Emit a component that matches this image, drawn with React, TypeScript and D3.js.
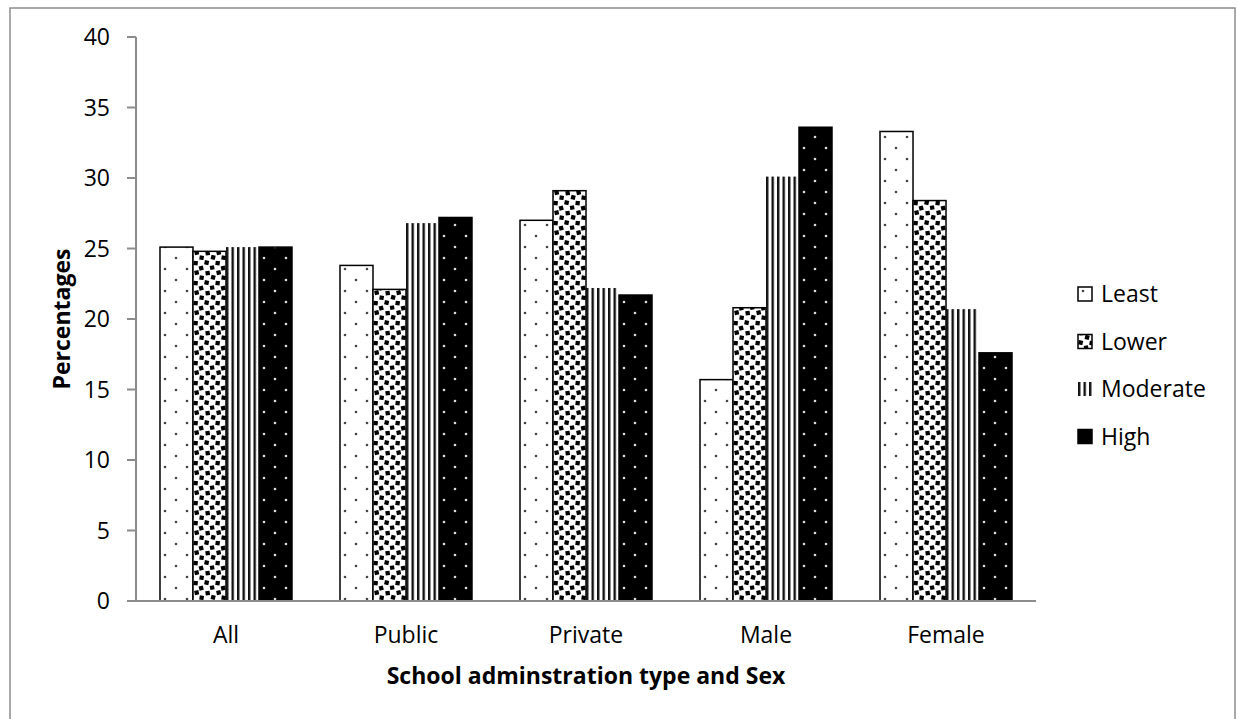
import React from "react";
import * as d3 from "d3";

// Percentages by school administration type and sex, for each level
const categories = ["All", "Public", "Private", "Male", "Female"];
const seriesNames = ["Least", "Lower", "Moderate", "High"];
const least = [25.1, 23.8, 27.0, 15.7, 33.3];
const lower = [24.8, 22.1, 29.1, 20.8, 28.4];
const moderate = [25.1, 26.8, 22.2, 30.1, 20.7];
const high = [25.1, 27.2, 21.7, 33.6, 17.6];
const yTicks = [0, 5, 10, 15, 20, 25, 30, 35, 40];

const seriesValues = [least, lower, moderate, high];
const patternIds = ["pat-least", "pat-lower", "pat-moderate", "pat-high"];
// the striped series is drawn without an outline
const outlined = [true, true, false, true];

const W = 1238;
const H = 719;
const plot = { left: 136, right: 1036, top: 37, bottom: 601 };
const FONT = "'Open Sans', 'DejaVu Sans', sans-serif";
const AXIS = "#8c8c8c";

export default function App() {
  const x = d3
    .scaleBand<string>()
    .domain(categories)
    .range([plot.left, plot.right])
    .paddingInner(0.2667)
    .paddingOuter(0.1333);
  const xInner = d3
    .scaleBand<string>()
    .domain(seriesNames)
    .range([0, x.bandwidth()]);
  const y = d3.scaleLinear().domain([0, 40]).range([plot.bottom, plot.top]);

  const legendX = 1078;
  const legendY0 = 294;
  const legendStep = 47.5;

  return (
    <svg
      width={W}
      height={H}
      style={{ position: "absolute", left: 0, top: 0, background: "#fff" }}
      fontFamily={FONT}
    >
      <defs>
        <pattern id="pat-least" patternUnits="userSpaceOnUse" width={22} height={22}>
          <rect width={22} height={22} fill="#fff" />
          <circle cx={5} cy={5} r={1.3} fill="#444" />
          <circle cx={16} cy={16} r={1.3} fill="#444" />
        </pattern>
        <pattern id="pat-lower" patternUnits="userSpaceOnUse" width={22} height={20}>
          <rect width={22} height={20} fill="#fff" />
          <rect x={0.5} y={0.5} width={4.3} height={4.3} fill="#000" transform="rotate(12 2.6 2.6)" />
          <rect x={6} y={5.5} width={4.3} height={4.3} fill="#000" transform="rotate(-10 8 7.6)" />
          <rect x={11.5} y={1} width={4.3} height={4.3} fill="#000" transform="rotate(8 13.6 3.1)" />
          <rect x={17} y={6} width={4.3} height={4.3} fill="#000" transform="rotate(-14 19 8)" />
          <rect x={1.5} y={11} width={4.3} height={4.3} fill="#000" transform="rotate(-8 3.6 13)" />
          <rect x={7} y={15.2} width={4.3} height={4.3} fill="#000" transform="rotate(14 9 17.3)" />
          <rect x={12.5} y={10.5} width={4.3} height={4.3} fill="#000" transform="rotate(-12 14.6 12.6)" />
          <rect x={17.5} y={15.5} width={4.3} height={4.3} fill="#000" transform="rotate(10 19.6 17.6)" />
        </pattern>
        <pattern id="pat-moderate" patternUnits="userSpaceOnUse" width={5.5} height={10}>
          <rect width={5.5} height={10} fill="#fff" />
          <rect x={0} width={2.4} height={10} fill="#111" />
        </pattern>
        <pattern id="pat-high" patternUnits="userSpaceOnUse" width={22} height={22}>
          <rect width={22} height={22} fill="#000" />
          <circle cx={5} cy={5} r={1.3} fill="#ddd" />
          <circle cx={16} cy={16} r={1.3} fill="#ddd" />
        </pattern>
      </defs>

      {/* chart frame */}
      <rect x={10} y={8} width={1225} height={725} fill="none" stroke={AXIS} strokeWidth={1.5} />

      {/* bars */}
      {categories.map((cat, ci) => (
        <g key={cat} transform={`translate(${x(cat)},0)`}>
          {seriesNames.map((s, si) => {
            const v = seriesValues[si][ci];
            return (
              <rect
                key={s}
                x={xInner(s)}
                y={y(v)}
                width={xInner.bandwidth()}
                height={y(0) - y(v)}
                fill={`url(#${patternIds[si]})`}
                stroke={outlined[si] ? "#000" : "none"}
                strokeWidth={1.5}
              />
            );
          })}
        </g>
      ))}

      {/* y axis */}
      <line x1={plot.left} x2={plot.left} y1={plot.top} y2={plot.bottom} stroke={AXIS} strokeWidth={2} />
      {yTicks.map((t) => (
        <g key={t}>
          <line x1={plot.left - 9} x2={plot.left} y1={y(t)} y2={y(t)} stroke={AXIS} strokeWidth={2} />
          <text x={110} y={y(t)} dy="0.35em" textAnchor="end" fontSize={23} fill="#000">
            {t}
          </text>
        </g>
      ))}

      {/* x axis */}
      <line x1={plot.left - 9} x2={plot.right} y1={plot.bottom} y2={plot.bottom} stroke={AXIS} strokeWidth={2} />
      {categories.map((cat) => (
        <text
          key={cat}
          x={(x(cat) as number) + x.bandwidth() / 2}
          y={643}
          textAnchor="middle"
          fontSize={23}
          fill="#000"
        >
          {cat}
        </text>
      ))}

      {/* axis titles */}
      <text
        x={(plot.left + plot.right) / 2}
        y={684}
        textAnchor="middle"
        fontSize={23}
        fontWeight="bold"
        fill="#000"
      >
        School adminstration type and Sex
      </text>
      <text
        transform={`translate(70, ${(plot.top + plot.bottom) / 2}) rotate(-90)`}
        textAnchor="middle"
        fontSize={23}
        fontWeight="bold"
        fill="#000"
      >
        Percentages
      </text>

      {/* legend */}
      {seriesNames.map((s, si) => {
        const cy = legendY0 + si * legendStep;
        return (
          <g key={s}>
            <rect
              x={legendX}
              y={cy - 7}
              width={14}
              height={14}
              fill={`url(#${patternIds[si]})`}
              stroke={outlined[si] ? "#000" : "none"}
              strokeWidth={1.5}
            />
            <text x={legendX + 23} y={cy} dy="0.35em" fontSize={23} fill="#000">
              {s}
            </text>
          </g>
        );
      })}
    </svg>
  );
}
